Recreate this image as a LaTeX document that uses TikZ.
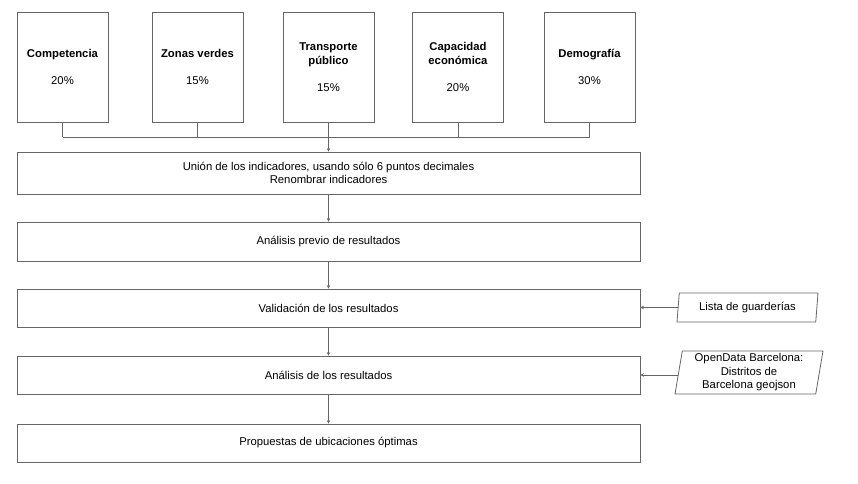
\documentclass[tikz,border=0pt]{standalone}
\usepackage{fontspec}
\setmainfont{Liberation Sans}
\usetikzlibrary{arrows.meta,shapes.geometric}

\tikzset{
  indicador/.style={draw=black!60, line width=0.8pt, minimum width=91pt, minimum height=110pt,
    align=center, inner sep=0pt},
  paso/.style={draw=black!60, line width=0.8pt, minimum width=623pt, minimum height=38pt,
    align=center, inner sep=0pt},
  fuente/.style={draw=black!60, line width=0.8pt, trapezium, trapezium left angle=78,
    trapezium right angle=102, trapezium stretches body, align=center, inner sep=0pt},
  flecha/.style={draw=black!60, line width=0.8pt, -{Stealth[length=3.5pt,width=3.5pt]}},
  linea/.style={draw=black!60, line width=0.8pt}
}

\begin{document}
\begin{tikzpicture}[x=1pt, y=-1pt, font=\fontsize{11.3}{13.5}\selectfont]
      \useasboundingbox (0,0) rectangle (858,483);
      % indicadores
      \node[indicador, name=comp] at (62.5,67) {\textbf{Competencia}\\[13.5pt]20\%};
      \node[indicador, name=zonas] at (197.5,67) {\textbf{Zonas verdes}\\[13.5pt]15\%};
      \node[indicador, name=transp] at (328.5,67) {\textbf{Transporte}\\\textbf{público}\\[13.5pt]15\%};
      \node[indicador, name=capac] at (458,67) {\textbf{Capacidad}\\\textbf{económica}\\[13.5pt]20\%};
      \node[indicador, name=demo] at (589.5,67) {\textbf{Demografía}\\[13.5pt]30\%};
      % pasos
      \node[paso, name=union, minimum height=42pt] at (328.5,173)
         {Unión de los indicadores, usando sólo 6 puntos decimales\\Renombrar indicadores};
      \node[paso, name=previo, minimum height=39pt] at (328.5,241.5) {Análisis previo de resultados};
      \node[paso, name=valid] at (328.5,308) {Validación de los resultados};
      \node[paso, name=anal] at (328.5,375) {Análisis de los resultados};
      \node[paso, name=prop] at (328.5,443) {Propuestas de ubicaciones óptimas};
      % fuentes
      \node[fuente, name=lista, minimum width=141pt, minimum height=29pt] at (747.5,307.5) {Lista de guarderías};
      \node[fuente, name=odata, minimum width=148pt, minimum height=43pt, trapezium left angle=79,
         trapezium right angle=101] at (749,372.5) {OpenData Barcelona:\\Distritos de\\Barcelona geojson};
      % union de indicadores
      \coordinate (bus) at (328.5,137);
      \draw[linea] (comp.south) -- (comp.south |- bus);
      \draw[linea] (zonas.south) -- (zonas.south |- bus);
      \draw[linea] (capac.south) -- (capac.south |- bus);
      \draw[linea] (demo.south) -- (demo.south |- bus);
      \draw[linea] (comp.south |- bus) -- (demo.south |- bus);
      \draw[flecha] (transp.south) -- (union.north);
      % flujo
      \draw[flecha] (union) -- (previo);
      \draw[flecha] (previo) -- (valid);
      \draw[flecha] (valid) -- (anal);
      \draw[flecha] (anal) -- (prop);
      \draw[flecha] (lista.west) -- (valid.east |- lista.west);
      \draw[flecha] (odata.west |- anal) -- (anal.east);
   \end{tikzpicture}
\end{document}
